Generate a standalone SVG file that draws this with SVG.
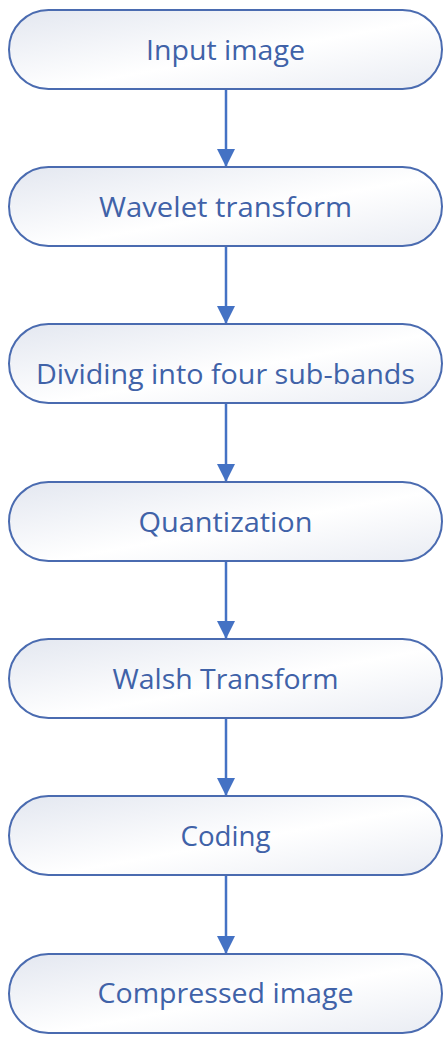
<svg xmlns="http://www.w3.org/2000/svg" width="447" height="1039" viewBox="0 0 447 1039">
<defs>
<linearGradient id="g" x1="0" y1="0" x2="1" y2="1">
<stop offset="0" stop-color="#e3e7f0"/>
<stop offset="0.55" stop-color="#ffffff"/>
<stop offset="1" stop-color="#e9ecf3"/>
</linearGradient>
<marker id="ah" markerUnits="userSpaceOnUse" markerWidth="20" markerHeight="20" refX="18" refY="9" orient="auto">
<path d="M0,0 L18,9 L0,18 Z" fill="#4472c4"/>
</marker>
<style>
.box{fill:url(#g);stroke:#4a6bb0;stroke-width:2}
.lbl{font-family:"Open Sans","Noto Sans",sans-serif;font-size:28px;fill:#4062a8;text-anchor:middle}
.con{stroke:#4472c4;stroke-width:2.5;fill:none}
</style>
</defs>
<g id="connectors">
<line class="con" x1="226" y1="89" x2="226" y2="167" marker-end="url(#ah)"/>
<line class="con" x1="226" y1="246" x2="226" y2="324" marker-end="url(#ah)"/>
<line class="con" x1="226" y1="403" x2="226" y2="482" marker-end="url(#ah)"/>
<line class="con" x1="226" y1="561" x2="226" y2="639" marker-end="url(#ah)"/>
<line class="con" x1="226" y1="718" x2="226" y2="796" marker-end="url(#ah)"/>
<line class="con" x1="226" y1="875" x2="226" y2="954" marker-end="url(#ah)"/>
</g>
<g id="n1"><rect class="box" x="9" y="10" width="433" height="79" rx="39.5" ry="39.5"/><text class="lbl" x="225.5" y="60" textLength="159" lengthAdjust="spacingAndGlyphs">Input image</text></g>
<g id="n2"><rect class="box" x="9" y="167" width="433" height="79" rx="39.5" ry="39.5"/><text class="lbl" x="225.5" y="217" textLength="253" lengthAdjust="spacingAndGlyphs">Wavelet transform</text></g>
<g id="n3"><rect class="box" x="9" y="324" width="433" height="79" rx="39.5" ry="39.5"/><text class="lbl" x="225.5" y="384" textLength="379" lengthAdjust="spacingAndGlyphs">Dividing into four sub-bands</text></g>
<g id="n4"><rect class="box" x="9" y="482" width="433" height="79" rx="39.5" ry="39.5"/><text class="lbl" x="225.5" y="532" textLength="174" lengthAdjust="spacingAndGlyphs">Quantization</text></g>
<g id="n5"><rect class="box" x="9" y="639" width="433" height="79" rx="39.5" ry="39.5"/><text class="lbl" x="225.5" y="689" textLength="226" lengthAdjust="spacingAndGlyphs">Walsh Transform</text></g>
<g id="n6"><rect class="box" x="9" y="796" width="433" height="79" rx="39.5" ry="39.5"/><text class="lbl" x="225.5" y="846" textLength="90" lengthAdjust="spacingAndGlyphs">Coding</text></g>
<g id="n7"><rect class="box" x="9" y="954" width="433" height="79" rx="39.5" ry="39.5"/><text class="lbl" x="225.5" y="1003" textLength="256" lengthAdjust="spacingAndGlyphs">Compressed image</text></g>
</svg>
